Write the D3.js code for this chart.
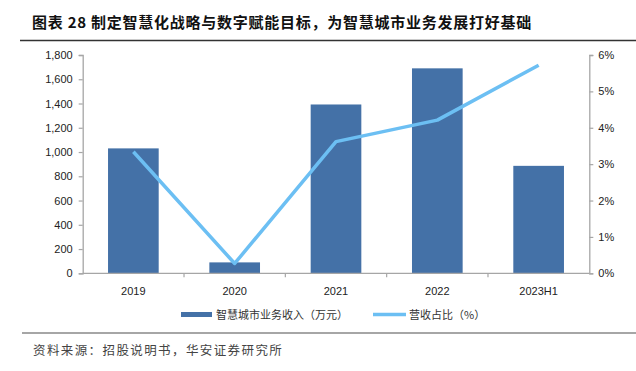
<!DOCTYPE html>
<html>
<head>
<meta charset="utf-8">
<script src="https://cdn.jsdelivr.net/npm/d3@7/dist/d3.min.js"></script>
<style>
  body { margin: 0; background: #fff; }
  text { font-family: "Liberation Sans", Arial, sans-serif; }
  .cjk { font-family: "Noto Sans CJK SC", sans-serif; }
</style>
</head>
<body>
<div id="chart"></div>
<script>
const categories = ['2019', '2020', '2021', '2022', '2023H1'];
const revenue = [1030, 90, 1392, 1690, 886];
const share = [3.34, 0.27, 3.62, 4.21, 5.72];
const leftTicks = [0, 200, 400, 600, 800, 1000, 1200, 1400, 1600, 1800];
const rightTicks = [0, 1, 2, 3, 4, 5, 6];
const titleText = '图表 28 制定智慧化战略与数字赋能目标，为智慧城市业务发展打好基础';
const legendNames = ['智慧城市业务收入（万元）', '营收占比（%）'];
const sourceText = '资料来源：招股说明书，华安证券研究所';

const W = 636, H = 371;
const plotL = 82.7, plotR = 589.3, plotT = 55, plotB = 273.3;
const barColor = '#4471a7', lineColor = '#6cbff3', axisColor = '#a6a6a6';

const svg = d3.select('#chart').append('svg')
  .attr('width', W).attr('height', H);

// title
svg.append('text')
  .attr('class', 'cjk')
  .attr('x', 32).attr('y', 28)
  .style('font-size', '15px')
  .style('font-weight', 'bold')
  .style('letter-spacing', '0.75px')
  .style('fill', '#111')
  .text(titleText);

svg.append('line')
  .attr('x1', 20).attr('x2', W).attr('y1', 40.5).attr('y2', 40.5)
  .attr('stroke', '#333').attr('stroke-width', 1.3);

const x = d3.scaleBand().domain(categories).range([plotL, plotR]).paddingInner(0.5).paddingOuter(0.25);
const yL = d3.scaleLinear().domain([0, 1800]).range([plotB, plotT]);
const yR = d3.scaleLinear().domain([0, 6]).range([plotB, plotT]);

// bars
svg.selectAll('.bar')
  .data(categories)
  .enter()
  .append('rect')
  .attr('class', 'bar')
  .attr('x', d => x(d))
  .attr('width', x.bandwidth())
  .attr('y', (d, i) => yL(revenue[i]))
  .attr('height', (d, i) => plotB - yL(revenue[i]))
  .attr('fill', barColor);

// axes
const axL = svg.append('g')
  .attr('transform', `translate(${plotL},0)`)
  .call(d3.axisLeft(yL).tickValues(leftTicks).tickSize(4).tickPadding(6).tickFormat(d3.format(',')));
const axR = svg.append('g')
  .attr('transform', `translate(${plotR},0)`)
  .call(d3.axisRight(yR).tickValues(rightTicks).tickSize(4).tickPadding(5).tickFormat(d => d + '%'));
[axL, axR].forEach(g => {
  g.select('.domain').attr('stroke', axisColor).attr('stroke-width', 1.3);
  g.selectAll('.tick line').attr('stroke', axisColor).attr('stroke-width', 1.2);
  g.selectAll('.tick text').style('font-size', '11px').style('fill', '#222')
    .style('font-family', '"Liberation Sans", Arial, sans-serif');
});

// bottom axis
svg.append('line')
  .attr('x1', plotL).attr('x2', plotR).attr('y1', plotB).attr('y2', plotB)
  .attr('stroke', axisColor).attr('stroke-width', 1.3);
const step = x.step();
svg.selectAll('.xtick')
  .data(categories.slice(1))
  .enter()
  .append('line')
  .attr('x1', (d, i) => plotL + step * (i + 1))
  .attr('x2', (d, i) => plotL + step * (i + 1))
  .attr('y1', plotB).attr('y2', plotB + 4)
  .attr('stroke', axisColor).attr('stroke-width', 1.2);
svg.selectAll('.xlabel')
  .data(categories)
  .enter()
  .append('text')
  .attr('x', d => x(d) + x.bandwidth() / 2)
  .attr('y', 295)
  .attr('text-anchor', 'middle')
  .style('font-size', '11px')
  .style('fill', '#222')
  .text(d => d);

// line
const line = d3.line()
  .x((d, i) => x(categories[i]) + x.bandwidth() / 2)
  .y(d => yR(d));
svg.append('path')
  .datum(share)
  .attr('d', line)
  .attr('fill', 'none')
  .attr('stroke', lineColor)
  .attr('stroke-width', 3.5)
  .attr('stroke-linejoin', 'round');

// legend
const lg = svg.append('g');
lg.append('rect').attr('x', 181).attr('y', 312).attr('width', 31).attr('height', 5).attr('fill', barColor);
lg.append('text').attr('class', 'cjk').attr('x', 216).attr('y', 319)
  .style('font-size', '11px').style('fill', '#333').text(legendNames[0]);
lg.append('line').attr('x1', 373).attr('x2', 406).attr('y1', 314.5).attr('y2', 314.5)
  .attr('stroke', lineColor).attr('stroke-width', 3.5);
lg.append('text').attr('class', 'cjk').attr('x', 409).attr('y', 319)
  .style('font-size', '11px').style('fill', '#333').text(legendNames[1]);

// source
svg.append('line')
  .attr('x1', 22).attr('x2', W).attr('y1', 333).attr('y2', 333)
  .attr('stroke', '#888').attr('stroke-width', 1.3);
svg.append('text')
  .attr('class', 'cjk')
  .attr('x', 33).attr('y', 355)
  .style('font-size', '12.5px')
  .style('letter-spacing', '1.4px')
  .style('fill', '#444')
  .text(sourceText);
</script>
</body>
</html>
